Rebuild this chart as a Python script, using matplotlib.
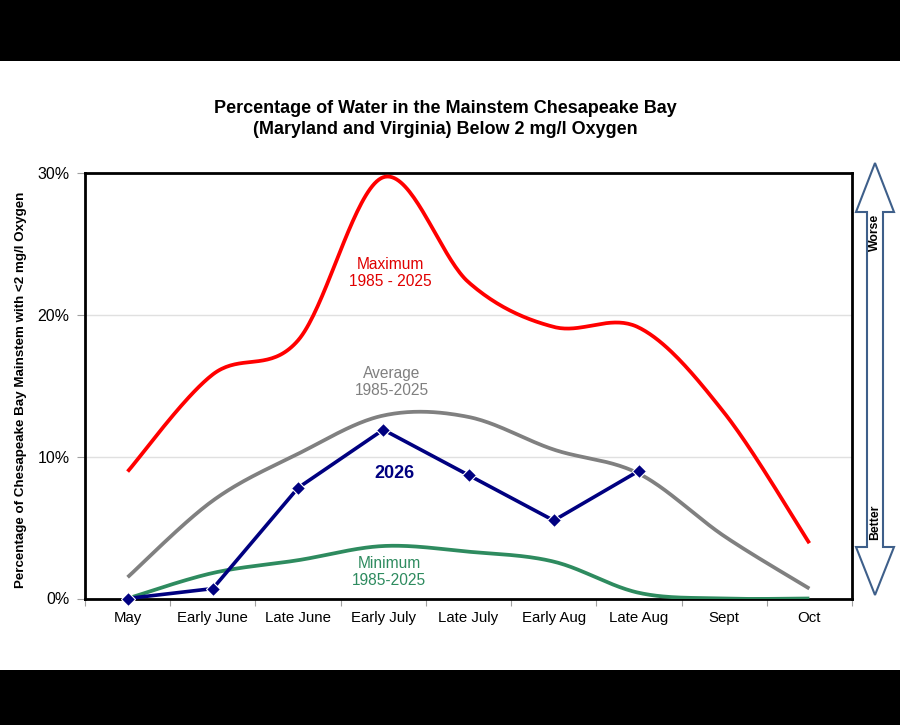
import numpy as np
import matplotlib
matplotlib.use("Agg")
import matplotlib.pyplot as plt
from matplotlib.patches import Rectangle, Polygon

plt.rcParams['font.family'] = ['Liberation Sans', 'DejaVu Sans']

categories = ["May", "Early June", "Late June", "Early July", "Late July",
              "Early Aug", "Late Aug", "Sept", "Oct"]
maximum = [8.95, 15.8, 18.2, 29.7, 22.3, 19.15, 19.1, 13.1, 3.9]
average = [1.5, 6.9, 10.2, 12.9, 12.8, 10.5, 8.8, 4.4, 0.7]
minimum = [0.0, 1.8, 2.7, 3.7, 3.3, 2.6, 0.4, 0.0, 0.0]
y2026 = [0.0, 0.7, 7.8, 11.9, 8.7, 5.5, 9.0]
yticks = [0, 10, 20, 30]
ytick_labels = ["0%", "10%", "20%", "30%"]


def smooth(xs, ys, n=40):
    """Excel-like smoothed line: cubic Bezier with Catmull-Rom control points."""
    xs = np.asarray(xs, float)
    ys = np.asarray(ys, float)
    px, py = [], []
    m = len(xs)
    for i in range(m - 1):
        x0, y0 = (xs[i - 1], ys[i - 1]) if i > 0 else (xs[i], ys[i])
        x1, y1 = xs[i], ys[i]
        x2, y2 = xs[i + 1], ys[i + 1]
        x3, y3 = (xs[i + 2], ys[i + 2]) if i + 2 < m else (xs[i + 1], ys[i + 1])
        c1x, c1y = x1 + (x2 - x0) / 6, y1 + (y2 - y0) / 6
        c2x, c2y = x2 - (x3 - x1) / 6, y2 - (y3 - y1) / 6
        t = np.linspace(0, 1, n)
        bx = (1 - t) ** 3 * x1 + 3 * (1 - t) ** 2 * t * c1x + 3 * (1 - t) * t ** 2 * c2x + t ** 3 * x2
        by = (1 - t) ** 3 * y1 + 3 * (1 - t) ** 2 * t * c1y + 3 * (1 - t) * t ** 2 * c2y + t ** 3 * y2
        px.extend(bx)
        py.extend(by)
    return np.array(px), np.array(py)


fig = plt.figure(figsize=(9, 7.25), dpi=100)
fig.patch.set_facecolor("white")
W, H = 900, 725

# black bands
fig.patches.append(Rectangle((0, 1 - 61 / H), 1, 61 / H, transform=fig.transFigure,
                             facecolor="black", edgecolor="none", zorder=0))
fig.patches.append(Rectangle((0, 0), 1, 55 / H, transform=fig.transFigure,
                             facecolor="black", edgecolor="none", zorder=0))

left, right, top, bottom = 85, 852, 173, 598.5
ax = fig.add_axes([left / W, 1 - bottom / H, (right - left) / W, (bottom - top) / H])

x = np.arange(len(categories))
for ys, col in [(maximum, "#ff0000"), (average, "#808080"), (minimum, "#2e8b5f")]:
    sx, sy = smooth(x, ys)
    ax.plot(sx, sy, color=col, lw=2.7, solid_capstyle="butt", zorder=3)

ax.plot(x[:len(y2026)], y2026, color="#000080", lw=2.6, marker="D", ms=7.5,
        markeredgecolor="white", markeredgewidth=0.8, zorder=4, clip_on=False)

ax.set_xlim(-0.5, len(categories) - 0.5)
ax.set_ylim(0, 30)
ax.set_yticks(yticks)
ax.set_yticklabels(ytick_labels, fontsize=11.5)
ax.set_xticks(x)
ax.set_xticklabels(categories, fontsize=10.8)
ax.set_xticks(np.arange(-0.5, len(categories)), minor=True)
ax.tick_params(axis="x", which="major", length=0, pad=9)
ax.tick_params(axis="x", which="minor", length=5, color="#a0a0a0", width=0.8)
ax.tick_params(axis="y", length=6, color="#a0a0a0", width=0.8, pad=5)
for s in ax.spines.values():
    s.set_linewidth(2)
    s.set_color("black")
ax.grid(axis="y", color="#e0e0e0", lw=1)
ax.set_axisbelow(True)

# labels
ax.text(3.08, 22.94, "Maximum\n1985 - 2025", color="#e00000", fontsize=11.2,
        ha="center", va="center", linespacing=1.15)
ax.text(3.1, 15.28, "Average\n1985-2025", color="#808080", fontsize=11.2,
        ha="center", va="center", linespacing=1.15)
ax.text(3.13, 8.79, "2026", color="#000080", fontsize=13, fontweight="bold",
        ha="center", va="center")
ax.text(3.07, 1.87, "Minimum\n1985-2025", color="#2e8b5f", fontsize=11.2,
        ha="center", va="center", linespacing=1.15)

ax.set_ylabel("Percentage of Chesapeake Bay Mainstem with <2 mg/l Oxygen",
              fontsize=9.6, fontweight="bold")
ax.yaxis.set_label_coords(-0.076, 0.49)

title = ("Percentage of Water in the Mainstem Chesapeake Bay\n"
         "(Maryland and Virginia) Below 2 mg/l Oxygen")
fig.text(445 / W, 1 - 119 / H, title, ha="center", va="center", fontsize=13,
         fontweight="bold", linespacing=1.35)

# double arrow (Worse / Better)
pts = [(875, 163), (894, 212), (883, 212), (883, 547), (894, 547), (875, 595),
       (856, 547), (867, 547), (867, 212), (856, 212)]
fig.patches.append(Polygon([(px_ / W, 1 - py_ / H) for px_, py_ in pts], closed=True,
                           transform=fig.transFigure, facecolor="white",
                           edgecolor="#3e5f8a", lw=1.5, zorder=2))
fig.text(875 / W, 1 - 232 / H, "Worse", rotation=90, ha="center", va="center",
         fontsize=8.8, fontweight="bold")
fig.text(875 / W, 1 - 522 / H, "Better", rotation=90, ha="center", va="center",
         fontsize=8.8, fontweight="bold")

fig.savefig("out.png", dpi=100, facecolor="white")
